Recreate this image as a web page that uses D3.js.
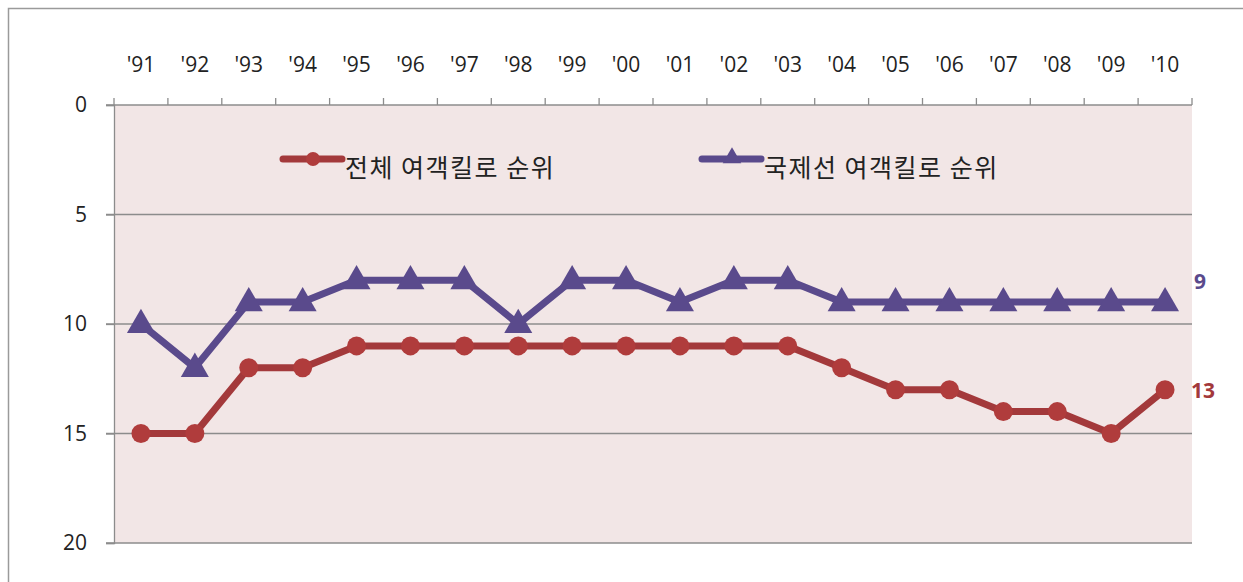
<!DOCTYPE html>
<html>
<head>
<meta charset="utf-8">
<script src="https://cdn.jsdelivr.net/npm/d3@7"></script>
<style>
  body { margin: 0; background: #fff; }
  svg text { font-family: "Noto Sans CJK KR", "Noto Sans", sans-serif; }
</style>
</head>
<body>
<script>
// years on the top axis
var years = ["'91", "'92", "'93", "'94", "'95", "'96", "'97", "'98", "'99", "'00",
             "'01", "'02", "'03", "'04", "'05", "'06", "'07", "'08", "'09", "'10"]
// overall passenger-km rank
var totalRank = [15, 15, 12, 12, 11, 11, 11, 11, 11, 11, 11, 11, 11, 12, 13, 13, 14, 14, 15, 13]
// international passenger-km rank
var intlRank = [10, 12, 9, 9, 8, 8, 8, 10, 8, 8, 9, 8, 8, 9, 9, 9, 9, 9, 9, 9]
var yTicks = [0, 5, 10, 15, 20]
var seriesNames = ["전체 여객킬로 순위", "국제선 여객킬로 순위"]

var w = 1243
var h = 582
var margins = {left: 114, right: 51, upper: 105, lower: 39}

var red = "#a3393b"
var purple = "#5a4a8c"
var tickFont = "'Open Sans', 'DejaVu Sans', sans-serif"

var svg = d3.select("body")
            .append("svg")
            .attr("width", w)
            .attr("height", h)

// outer frame
svg.append("rect")
   .attr("x", 8.5).attr("y", 8.5)
   .attr("width", 1240).attr("height", 590)
   .attr("fill", "none")
   .attr("stroke", "#9a9a9a")
   .attr("stroke-width", 1.5)

var xScale = d3.scaleBand()
               .domain(years)
               .range([margins.left, w - margins.right])
var yScale = d3.scaleLinear()
               .domain([0, 20])
               .range([margins.upper, h - margins.lower])

function cx(d, i) { return xScale(years[i]) + xScale.bandwidth() / 2 }

// plot background
svg.append("rect")
   .attr("x", margins.left)
   .attr("y", margins.upper)
   .attr("width", w - margins.right - margins.left)
   .attr("height", h - margins.lower - margins.upper)
   .attr("fill", "#f2e6e6")

// gridlines
svg.selectAll(".grid")
   .data(yTicks.slice(1))
   .enter()
   .append("line")
   .attr("x1", margins.left - 8)
   .attr("x2", w - margins.right)
   .attr("y1", function(d) { return yScale(d) })
   .attr("y2", function(d) { return yScale(d) })
   .attr("stroke", "#8c8c8c")
   .attr("stroke-width", 1.3)

// y axis
var yAxis = svg.append("g")
   .attr("transform", "translate(" + margins.left + ",0)")
   .call(d3.axisLeft(yScale).tickValues(yTicks).tickSize(8).tickPadding(19))
yAxis.selectAll("path, line").attr("stroke", "#8c8c8c").attr("stroke-width", 1.3)
yAxis.selectAll("text")
     .attr("font-size", 21)
     .attr("fill", "#222")
     .style("font-family", tickFont)

// x axis on top, ticks at band edges
var xAxis = svg.append("g")
   .attr("transform", "translate(0," + margins.upper + ")")
xAxis.append("line")
     .attr("x1", margins.left - 8)
     .attr("x2", w - margins.right)
     .attr("stroke", "#8c8c8c").attr("stroke-width", 1.3)
xAxis.selectAll(".tick")
     .data(years.concat(["end"]))
     .enter()
     .append("line")
     .attr("x1", function(d, i) { return margins.left + i * xScale.bandwidth() })
     .attr("x2", function(d, i) { return margins.left + i * xScale.bandwidth() })
     .attr("y1", -7).attr("y2", 0)
     .attr("stroke", "#8c8c8c").attr("stroke-width", 1.3)
xAxis.selectAll(".lab")
     .data(years)
     .enter()
     .append("text")
     .attr("x", cx)
     .attr("y", -33)
     .attr("text-anchor", "middle")
     .attr("font-size", 21)
     .attr("fill", "#222")
     .style("font-family", tickFont)
     .text(function(d) { return d })

var line = d3.line()
             .x(cx)
             .y(function(d) { return yScale(d) })

// overall rank line
svg.append("path")
   .datum(totalRank)
   .attr("d", line)
   .attr("fill", "none")
   .attr("stroke", red)
   .attr("stroke-width", 7)
   .attr("stroke-linejoin", "round")
svg.selectAll(".dot")
   .data(totalRank)
   .enter()
   .append("circle")
   .attr("cx", cx)
   .attr("cy", function(d) { return yScale(d) })
   .attr("r", 9.5)
   .attr("fill", "#b03c3c")

// international rank line
var tri = d3.symbol().type(d3.symbolTriangle).size(340)
svg.append("path")
   .datum(intlRank)
   .attr("d", line)
   .attr("fill", "none")
   .attr("stroke", purple)
   .attr("stroke-width", 7)
   .attr("stroke-linejoin", "round")
svg.selectAll(".tri")
   .data(intlRank)
   .enter()
   .append("path")
   .attr("d", tri)
   .attr("transform", function(d, i) { return "translate(" + cx(d, i) + "," + (yScale(d) + 1) + ")" })
   .attr("fill", purple)

// end labels
svg.append("text")
   .attr("x", w - margins.right + 2)
   .attr("y", yScale(intlRank[intlRank.length - 1]) - 13)
   .attr("font-size", 21).attr("font-weight", "bold")
   .attr("fill", purple)
   .style("font-family", tickFont)
   .text(intlRank[intlRank.length - 1])
svg.append("text")
   .attr("x", w - margins.right - 1)
   .attr("y", yScale(totalRank[totalRank.length - 1]) + 8)
   .attr("font-size", 21).attr("font-weight", "bold")
   .attr("fill", red)
   .style("font-family", tickFont)
   .text(totalRank[totalRank.length - 1])

// legend
var legend = [{x: 283, color: red, mark: "circle"}, {x: 702, color: purple, mark: "tri"}]
legend.forEach(function(l, i) {
  var ly = 159
  svg.append("line")
     .attr("x1", l.x).attr("x2", l.x + 59)
     .attr("y1", ly).attr("y2", ly)
     .attr("stroke", l.color).attr("stroke-width", 7)
     .attr("stroke-linecap", "round")
  if (l.mark === "circle") {
    svg.append("circle").attr("cx", l.x + 30).attr("cy", ly).attr("r", 7).attr("fill", "#b03c3c")
  } else {
    svg.append("path")
       .attr("d", d3.symbol().type(d3.symbolTriangle).size(150))
       .attr("transform", "translate(" + (l.x + 30) + "," + (ly - 1) + ")")
       .attr("fill", l.color)
  }
  svg.append("text")
     .attr("x", l.x + 62)
     .attr("y", ly + 18)
     .attr("font-size", 25)
     .attr("letter-spacing", 1.5)
     .attr("fill", "#222")
     .text(seriesNames[i])
})
</script>
</body>
</html>
